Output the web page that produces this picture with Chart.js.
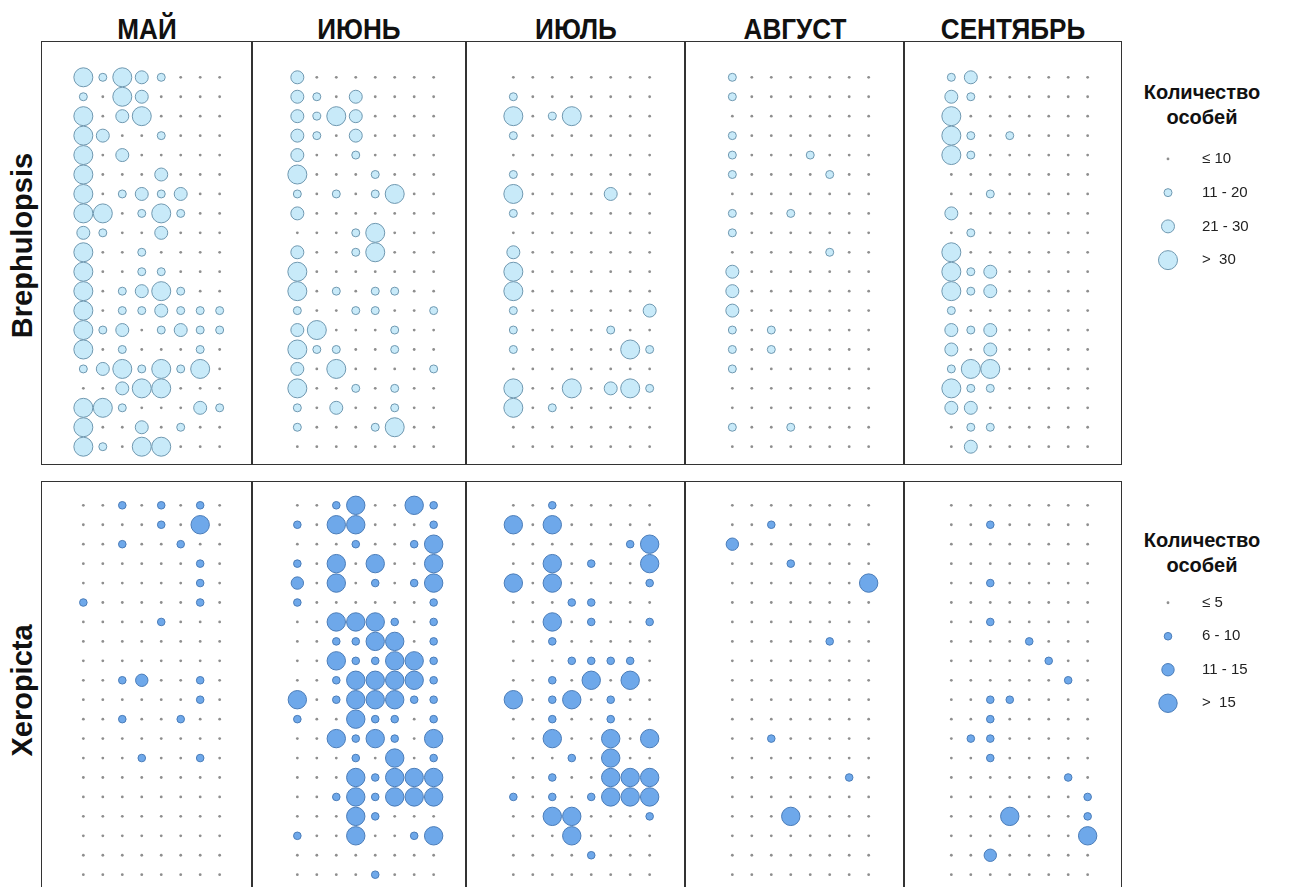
<!DOCTYPE html>
<html><head><meta charset="utf-8">
<script src="https://cdn.jsdelivr.net/npm/chart.js@4.4.1/dist/chart.umd.min.js"></script>
<style>
html,body{margin:0;padding:0;background:#fff;}
body{width:1290px;height:887px;overflow:hidden;position:relative;font-family:"Liberation Sans",Arial,sans-serif;color:#111;}
.box{position:absolute;border:1.6px solid #333;box-sizing:border-box;}
.month{position:absolute;top:13px;font-weight:bold;font-size:29px;width:220px;text-align:center;transform:scaleX(0.9);}
.rowlab{position:absolute;font-weight:bold;font-size:29px;white-space:nowrap;transform-origin:center center;}
.ltitle{position:absolute;font-weight:bold;font-size:20px;text-align:center;width:140px;line-height:25px;}
canvas{position:absolute;}
</style>
</head><body>
<script>
// ---------- DATA ----------
const months = ['МАЙ','ИЮНЬ','ИЮЛЬ','АВГУСТ','СЕНТЯБРЬ'];
const species = ['Brephulopsis','Xeropicta'];
const legendBrephulopsis = ['≤ 10','11 - 20','21 - 30','>  30'];
const legendXeropicta = ['≤ 5','6 - 10','11 - 15','>  15'];
// size class per grid cell (rows top->bottom, 8 columns); 0 smallest ... 3 largest
const brephMay = [
 [3,1,3,2,1,0,0,0],[1,0,3,2,0,0,0,0],[3,0,2,3,0,0,0,0],[3,2,0,0,1,0,0,0],[3,0,2,0,0,0,0,0],
 [3,0,0,0,2,0,0,0],[3,0,1,2,1,2,0,0],[3,3,0,1,3,1,0,0],[2,1,0,0,2,0,0,0],[3,0,0,1,0,0,0,0],
 [3,0,0,1,1,0,0,0],[3,0,1,2,3,1,0,0],[3,0,1,1,2,1,1,1],[3,1,2,0,1,2,1,1],[3,0,1,0,0,0,1,0],
 [1,2,3,1,3,1,3,0],[0,0,2,3,3,0,0,0],[3,3,1,0,0,0,2,1],[3,0,0,2,0,1,0,0],[3,1,0,3,3,0,0,0]];
const brephJun = [
 [2,0,0,0,0,0,0,0],[2,1,0,2,0,0,0,0],[2,1,3,2,0,0,0,0],[2,1,0,2,0,0,0,0],[2,0,0,1,0,0,0,0],
 [3,0,0,0,1,0,0,0],[1,0,1,0,1,3,0,0],[2,0,0,0,0,0,0,0],[0,0,0,1,3,0,0,0],[2,0,0,1,3,0,0,0],
 [3,0,0,0,0,0,0,0],[3,0,1,0,1,1,0,0],[1,0,0,1,1,0,0,1],[2,3,0,0,0,1,0,0],[3,1,1,0,0,1,0,0],
 [2,0,3,0,0,0,0,1],[3,0,0,1,0,1,0,0],[1,0,2,0,0,1,0,0],[1,0,0,0,1,3,0,0],[0,0,0,0,0,0,0,0]];
const brephJul = [
 [0,0,0,0,0,0,0,0],[1,0,0,0,0,0,0,0],[3,0,1,3,0,0,0,0],[1,0,0,0,0,0,0,0],[0,0,0,0,0,0,0,0],
 [1,0,0,0,0,0,0,0],[3,0,0,0,0,2,0,0],[1,0,0,0,0,0,0,0],[0,0,0,0,0,0,0,0],[2,0,0,0,0,0,0,0],
 [3,0,0,0,0,0,0,0],[3,0,0,0,0,0,0,0],[1,0,0,0,0,0,0,2],[1,0,0,0,0,1,0,0],[1,0,0,0,0,0,3,1],
 [0,0,0,0,0,0,0,0],[3,0,0,3,0,2,3,1],[3,0,1,0,0,0,0,0],[0,0,0,0,0,0,0,0],[0,0,0,0,0,0,0,0]];
const brephAug = [
 [1,0,0,0,0,0,0,0],[1,0,0,0,0,0,0,0],[0,0,0,0,0,0,0,0],[1,0,0,0,0,0,0,0],[1,0,0,0,1,0,0,0],
 [1,0,0,0,0,1,0,0],[0,0,0,0,0,0,0,0],[1,0,0,1,0,0,0,0],[1,0,0,0,0,0,0,0],[0,0,0,0,0,1,0,0],
 [2,0,0,0,0,0,0,0],[2,0,0,0,0,0,0,0],[2,0,0,0,0,0,0,0],[1,0,1,0,0,0,0,0],[1,0,1,0,0,0,0,0],
 [1,0,0,0,0,0,0,0],[0,0,0,0,0,0,0,0],[0,0,0,0,0,0,0,0],[1,0,0,1,0,0,0,0],[0,0,0,0,0,0,0,0]];
const brephSep = [
 [1,2,0,0,0,0,0,0],[2,1,0,0,0,0,0,0],[3,0,0,0,0,0,0,0],[3,1,0,1,0,0,0,0],[3,1,0,0,0,0,0,0],
 [0,0,0,0,0,0,0,0],[0,0,1,0,0,0,0,0],[2,0,0,0,0,0,0,0],[0,1,0,0,0,0,0,0],[3,0,0,0,0,0,0,0],
 [3,1,2,0,0,0,0,0],[3,1,2,0,0,0,0,0],[1,0,0,0,0,0,0,0],[2,1,2,0,0,0,0,0],[2,0,2,0,0,0,0,0],
 [1,3,3,0,0,0,0,0],[3,1,1,0,0,0,0,0],[2,2,0,0,0,0,0,0],[0,1,1,0,0,0,0,0],[0,2,0,0,0,0,0,0]];
const xeroMay = [
 [0,0,1,0,1,0,1,0],[0,0,0,0,1,0,3,0],[0,0,1,0,0,1,0,0],[0,0,0,0,0,0,1,0],[0,0,0,0,0,0,1,0],
 [1,0,0,0,0,0,1,0],[0,0,0,0,1,0,0,0],[0,0,0,0,0,0,0,0],[0,0,0,0,0,0,0,0],[0,0,1,2,0,0,1,0],
 [0,0,0,0,0,0,1,0],[0,0,1,0,0,1,0,0],[0,0,0,0,0,0,0,0],[0,0,0,1,0,0,1,0],[0,0,0,0,0,0,0,0],
 [0,0,0,0,0,0,0,0],[0,0,0,0,0,0,0,0],[0,0,0,0,0,0,0,0],[0,0,0,0,0,0,0,0],[0,0,0,0,0,0,0,0]];
const xeroJun = [
 [0,0,1,3,0,0,3,1],[1,0,3,3,0,0,0,1],[0,0,0,1,0,0,1,3],[1,0,3,0,3,0,0,3],[2,0,3,0,1,0,1,3],
 [1,0,0,0,0,0,0,1],[0,0,3,3,3,1,0,1],[0,0,1,1,3,3,0,1],[0,0,3,1,1,3,3,1],[0,0,1,3,3,3,3,1],
 [3,0,1,3,3,3,1,1],[1,0,0,3,1,1,0,1],[0,0,3,1,3,1,0,3],[0,0,0,1,0,3,0,1],[0,0,0,3,1,3,3,3],
 [0,0,1,3,1,3,3,3],[0,0,0,3,1,0,0,0],[1,0,0,3,0,0,1,3],[0,0,0,0,0,0,0,0],[0,0,0,0,1,0,0,0]];
const xeroJul = [
 [0,0,1,0,0,0,0,0],[3,0,3,0,0,0,0,0],[0,0,0,0,0,0,1,3],[0,0,3,0,1,0,0,3],[3,0,3,0,0,0,0,1],
 [0,0,0,1,1,0,0,0],[0,0,3,0,1,0,0,1],[0,0,1,0,0,0,0,0],[0,0,0,1,1,1,1,0],[0,0,1,0,3,0,3,0],
 [3,0,1,3,0,1,0,0],[0,0,1,0,0,1,0,0],[0,0,3,0,0,3,0,3],[0,0,0,1,0,3,0,0],[0,0,1,0,0,3,3,3],
 [1,0,1,0,1,3,3,3],[0,0,3,3,0,0,0,1],[0,0,0,3,0,0,0,0],[0,0,0,0,1,0,0,0],[0,0,0,0,0,0,0,0]];
const xeroAug = [
 [0,0,0,0,0,0,0,0],[0,0,1,0,0,0,0,0],[2,0,0,0,0,0,0,0],[0,0,0,1,0,0,0,0],[0,0,0,0,0,0,0,3],
 [0,0,0,0,0,0,0,0],[0,0,0,0,0,0,0,0],[0,0,0,0,0,1,0,0],[0,0,0,0,0,0,0,0],[0,0,0,0,0,0,0,0],
 [0,0,0,0,0,0,0,0],[0,0,0,0,0,0,0,0],[0,0,1,0,0,0,0,0],[0,0,0,0,0,0,0,0],[0,0,0,0,0,0,1,0],
 [0,0,0,0,0,0,0,0],[0,0,0,3,0,0,0,0],[0,0,0,0,0,0,0,0],[0,0,0,0,0,0,0,0],[0,0,0,0,0,0,0,0]];
const xeroSep = [
 [0,0,0,0,0,0,0,0],[0,0,1,0,0,0,0,0],[0,0,0,0,0,0,0,0],[0,0,0,0,0,0,0,0],[0,0,1,0,0,0,0,0],
 [0,0,0,0,0,0,0,0],[0,0,1,0,0,0,0,0],[0,0,0,0,1,0,0,0],[0,0,0,0,0,1,0,0],[0,0,0,0,0,0,1,0],
 [0,0,1,1,0,0,0,0],[0,0,1,0,0,0,0,0],[0,1,1,0,0,0,0,0],[0,0,1,0,0,0,0,0],[0,0,0,0,0,0,1,0],
 [0,0,0,0,0,0,0,1],[0,0,0,3,0,0,0,1],[0,0,0,0,0,0,0,3],[0,0,2,0,0,0,0,0],[0,0,0,0,0,0,0,0]];
const panels = [[brephMay,brephJun,brephJul,brephAug,brephSep],[xeroMay,xeroJun,xeroJul,xeroAug,xeroSep]];

// ---------- STYLE / LAYOUT ----------
const S = 19.45;
const colX0 = [83, 297, 513, 732, 951];
const rowY0 = [77, 505];
const borderX = [42, 252, 466, 685, 904, 1121];
const boxY = [[42, 464], [482, 905]];
const radii = [[1.4, 4, 6.5, 9.5], [1.4, 3.8, 6.2, 9.2]];
const fills = [['#8e8e8e', '#c8eaf9', '#c8eaf9', '#c8eaf9'], ['#8e8e8e', '#6ea8ea', '#6ea8ea', '#6ea8ea']];
const strokes = [['#8e8e8e', '#6f98b0', '#6f98b0', '#6f98b0'], ['#8e8e8e', '#4a7cb8', '#4a7cb8', '#4a7cb8']];

function el(tag, cls, css, txt) {
  const e = document.createElement(tag);
  if (cls) e.className = cls;
  Object.assign(e.style, css || {});
  if (txt != null) e.textContent = txt;
  document.body.appendChild(e);
  return e;
}

months.forEach((m, i) => {
  const cx = (borderX[i] + borderX[i + 1]) / 2;
  el('div', 'month', { left: (cx - 110) + 'px' }, m);
});
[[22, 245], [22, 690]].forEach(([cx, cy], r) => {
  const d = el('div', 'rowlab', {}, species[r]);
  const w = d.offsetWidth, h = d.offsetHeight;
  d.style.left = (cx - w / 2) + 'px';
  d.style.top = (cy - h / 2) + 'px';
  d.style.transform = 'rotate(-90deg)';
});
for (let r = 0; r < 2; r++) for (let i = 0; i < 5; i++) {
  el('div', 'box', {
    left: (borderX[i] - 0.8) + 'px', top: (boxY[r][0] - 0.8) + 'px',
    width: (borderX[i + 1] - borderX[i] + 1.6) + 'px', height: (boxY[r][1] - boxY[r][0] + 1.6) + 'px'
  });
}

const baseOpts = (xr, yr) => ({
  responsive: false, animation: false, events: [],
  layout: { padding: 0, autoPadding: false },
  plugins: { legend: { display: false }, tooltip: { enabled: false } },
  scales: {
    x: { type: 'linear', display: false, min: xr[0], max: xr[1] },
    y: { type: 'linear', display: false, min: yr[0], max: yr[1], reverse: true }
  }
});
const dsStyle = r => ({
  clip: false,
  backgroundColor: c => c.raw ? fills[r][c.raw.c] : '#000',
  borderColor: c => c.raw ? strokes[r][c.raw.c] : '#000',
  borderWidth: c => (c.raw && c.raw.c > 0) ? 1 : 0
});

for (let r = 0; r < 2; r++) for (let i = 0; i < 5; i++) {
  const grid = panels[r][i];
  const pts = [];
  grid.forEach((row, ri) => row.forEach((v, ci) => pts.push({ x: ci, y: ri, r: radii[r][v], c: v })));
  const m = 1.25;
  const w = Math.round((7 + 2 * m) * S), h = Math.round((19 + 2 * m) * S);
  const cv = el('canvas', null, { left: (colX0[i] - m * S) + 'px', top: (rowY0[r] - m * S) + 'px' });
  cv.width = w; cv.height = h;
  new Chart(cv, {
    type: 'bubble',
    data: { datasets: [Object.assign({ data: pts }, dsStyle(r))] },
    options: baseOpts([-m, 7 + m], [-m, 19 + m])
  });
}

const legendY = [[159, 33.7], [603, 33.4]];
const legendTitleY = [80, 528];
[legendBrephulopsis, legendXeropicta].forEach((labels, r) => {
  const t = el('div', 'ltitle', { left: (1202 - 70) + 'px', top: legendTitleY[r] + 'px' });
  t.innerHTML = 'Количество<br>особей';
  const step = legendY[r][1];
  const cv = el('canvas', null, { left: '1148px', top: (legendY[r][0] - 0.5 * step) + 'px' });
  cv.width = 130; cv.height = Math.round(4 * step);
  const pts = labels.map((l, k) => ({ x: 0, y: k, r: radii[r][k], c: k }));
  const o = baseOpts([-1, 1], [-0.5, 3.5]);
  o.scales.y = {
    type: 'linear', display: true, position: 'right', min: -0.5, max: 3.5, reverse: true,
    grid: { display: false }, border: { display: false },
    afterFit: s => { s.width = 90; s.paddingTop = 0; s.paddingBottom = 0; },
    afterBuildTicks: s => { s.ticks = labels.map((l, k) => ({ value: k })); },
    ticks: { padding: 6, color: '#222', font: { family: 'Liberation Sans', size: 15 },
             callback: (v) => labels[v] }
  };
  new Chart(cv, {
    type: 'bubble',
    data: { datasets: [Object.assign({ data: pts }, dsStyle(r))] },
    options: o
  });
});
</script>
</body></html>
